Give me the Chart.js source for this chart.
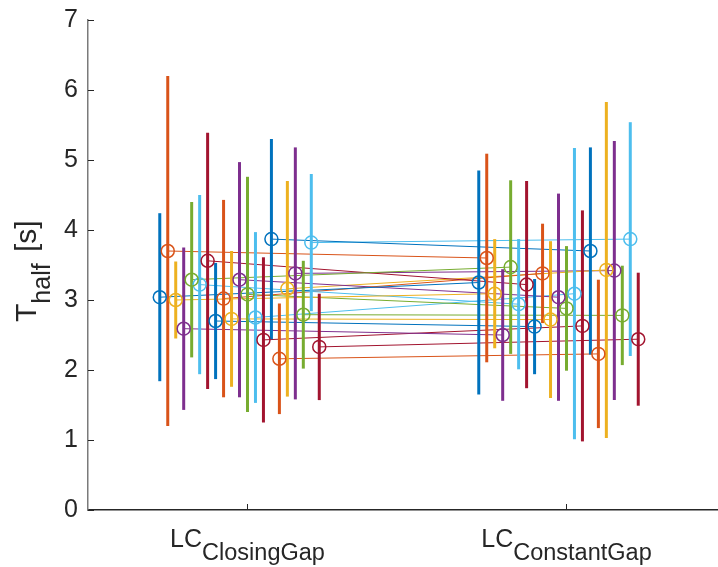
<!DOCTYPE html>
<html>
<head>
<meta charset="utf-8">
<script src="https://cdn.jsdelivr.net/npm/chart.js@4/dist/chart.umd.min.js"></script>
<style>
	body { margin: 0; background: #fff; }
	#wrap { width: 718px; height: 567px; position: relative; }
</style>
</head>
<body>
<div id="wrap"><canvas id="chart"></canvas></div>
<script>
// ----------------------------------------------------------------------
//	T_half per subject, two lane-change conditions (mean +- sd)
// ----------------------------------------------------------------------
const conditions = ["ClosingGap", "ConstantGap"]

const mean_closing = [3.04, 3.70, 3.00, 2.59, 3.29, 3.22, 3.56, 2.70, 3.02, 2.73, 3.29,
	3.08, 2.75, 2.43, 3.87, 2.16, 3.16, 3.38, 2.79, 3.82, 2.33]
const sd_closing = [1.20, 2.50, 0.55, 1.16, 1.11, 1.28, 1.83, 0.83, 1.41, 0.97, 1.68,
	1.68, 1.22, 1.18, 1.43, 0.79, 1.54, 1.80, 0.77, 0.98, 0.76]

const mean_constant = [3.25, 3.60, 3.09, 2.50, 3.47, 2.94, 3.22, 2.62, 3.38, 2.72, 3.04,
	2.88, 3.09, 2.63, 3.70, 2.23, 3.43, 3.42, 2.78, 3.87, 2.44]
const sd_constant = [1.60, 1.49, 0.78, 0.94, 1.24, 0.93, 1.48, 0.68, 0.71, 1.12, 1.48,
	0.89, 2.08, 1.65, 1.48, 1.06, 2.40, 1.85, 0.71, 1.67, 0.95]

const y_ticks = [0, 1, 2, 3, 4, 5, 6, 7]

const palette = ["#0072BD", "#D95319", "#EDB120", "#7E2F8E", "#77AC30", "#4DBEEE", "#A2142F"]
const ink = "#262626"
const font_name = "'Liberation Sans', Arial, Helvetica, sans-serif"

// ----------------------------------------------------------------------
function build_datasets ()
{
	const sets = []
	const n = mean_closing.length
	for (let it = 0; it < n; it++)
		{
		const color = palette[it % palette.length]
		const off = (it - 11) * 0.025
		const x1 = 1 + off
		const x2 = 2 + off

		sets.push ({
			data: [{x: x1, y: mean_closing[it]}, {x: x2, y: mean_constant[it]}],
			showLine: true, borderColor: color, borderWidth: 1,
			pointRadius: 0, order: 3
			})

		sets.push ({
			data: [{x: x1, y: mean_closing[it] - sd_closing[it]},
				{x: x1, y: mean_closing[it] + sd_closing[it]}],
			showLine: true, borderColor: color, borderWidth: 3,
			borderCapStyle: 'butt', pointRadius: 0, order: 2
			})

		sets.push ({
			data: [{x: x2, y: mean_constant[it] - sd_constant[it]},
				{x: x2, y: mean_constant[it] + sd_constant[it]}],
			showLine: true, borderColor: color, borderWidth: 3,
			borderCapStyle: 'butt', pointRadius: 0, order: 2
			})

		sets.push ({
			data: [{x: x1, y: mean_closing[it]}, {x: x2, y: mean_constant[it]}],
			showLine: false, pointStyle: 'circle', pointRadius: 6.5,
			pointBorderWidth: 1.5, pointBorderColor: color,
			pointBackgroundColor: 'rgba(0,0,0,0)', order: 1
			})
		}
	return sets
}

// ----------------------------------------------------------------------
// inward ticks, subscripted category labels and y title
const deco = {
	id: 'deco',
	afterDraw (chart)
	{
		const ctx = chart.ctx
		const xs = chart.scales.x
		const ys = chart.scales.y
		ctx.save ()
		ctx.strokeStyle = ink
		ctx.lineWidth = 1
		for (const v of y_ticks)
			{
			const py = Math.round (ys.getPixelForValue (v)) + 0.5
			ctx.beginPath ()
			ctx.moveTo (xs.left, py)
			ctx.lineTo (xs.left + 6, py)
			ctx.stroke ()
			}
		conditions.forEach (function (name, k)
			{
			const px = Math.round (xs.getPixelForValue (k + 1)) + 0.5
			ctx.beginPath ()
			ctx.moveTo (px, ys.bottom)
			ctx.lineTo (px, ys.bottom - 6)
			ctx.stroke ()
			})

		ctx.fillStyle = ink
		ctx.textBaseline = 'alphabetic'
		ctx.textAlign = 'left'
		conditions.forEach (function (name, k)
			{
			const px = xs.getPixelForValue (k + 1)
			ctx.font = "25px " + font_name
			const w1 = ctx.measureText ("LC").width
			ctx.font = "23.5px " + font_name
			const w2 = ctx.measureText (name).width
			const x0 = px - (w1 + w2) / 2
			ctx.font = "25px " + font_name
			ctx.fillText ("LC", x0, 547)
			ctx.font = "23.5px " + font_name
			ctx.fillText (name, x0 + w1, 560)
			})

		ctx.translate (36, 322)
		ctx.rotate (-Math.PI / 2)
		ctx.font = "30px " + font_name
		ctx.fillText ("T", 0, 0)
		let xx = ctx.measureText ("T").width
		ctx.font = "25px " + font_name
		ctx.fillText ("half", xx, 14)
		xx += ctx.measureText ("half").width + 3
		ctx.font = "30px " + font_name
		ctx.fillText (" [s]", xx, 0)
		ctx.restore ()
	}
}

// ----------------------------------------------------------------------
const config = {
	type: 'scatter',
	data: { datasets: build_datasets () },
	options: {
		responsive: true,
		maintainAspectRatio: false,
		animation: false,
		layout: { autoPadding: false, padding: { top: 20, right: 0, left: 0, bottom: 0 } },
		plugins: { legend: { display: false }, tooltip: { enabled: false } },
		scales: {
			x: {
				type: 'linear', min: 0.5, max: 2.475,
				grid: { display: false, drawTicks: false },
				border: { display: true, color: ink, width: 1.5 },
				ticks: { display: false },
				afterFit: function (s)
					{
					s.height = 57
					s.paddingLeft = 0
					s.paddingRight = 0
					}
				},
			y: {
				type: 'linear', min: 0, max: 7,
				grid: { display: false, drawTicks: false },
				border: { display: true, color: '#7a7a7a', width: 1.5 },
				ticks: {
					stepSize: 1, padding: 10, color: ink,
					font: { size: 25, family: font_name }
					},
				afterFit: function (s)
					{
					s.width = 88
					s.paddingTop = 0
					s.paddingBottom = 0
					}
				}
			}
		},
	plugins: [deco]
	}

const chart = new Chart (document.getElementById ("chart"), config)
// ----------------------------------------------------------------------
</script>
</body>
</html>
